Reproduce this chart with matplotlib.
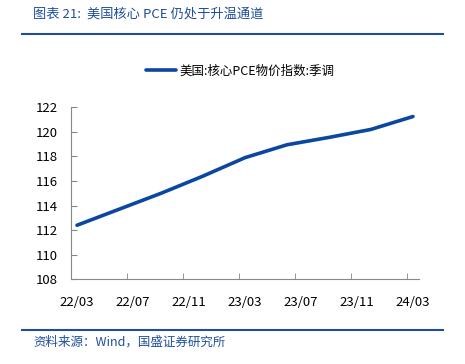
import numpy as np
import matplotlib
matplotlib.use("Agg")
import matplotlib.pyplot as plt
from matplotlib.lines import Line2D

plt.rcParams['font.family'] = ['Noto Sans CJK SC', 'DejaVu Sans']

# data: quarterly core PCE index, months counted from 2022/03
months = [0, 3, 6, 9, 12, 15, 18, 21, 24]
values = [112.4, 113.7, 115.0, 116.4, 117.9, 118.95, 119.55, 120.2, 121.25]
tick_months = [0, 4, 8, 12, 16, 20, 24]
tick_labels = ['22/03', '22/07', '22/11', '23/03', '23/07', '23/11', '24/03']
y_ticks = [108, 110, 112, 114, 116, 118, 120, 122]
series_name = '美国:核心PCE物价指数:季调'

title = '图表 21:  美国核心 PCE 仍处于升温通道'
source = '资料来源：Wind，国盛证券研究所'

BLUE = '#0b47a1'
HEAD = '#1f4e9c'
GREY = '#888888'

fig = plt.figure(figsize=(4.65, 3.64), dpi=100)
W, H = 465, 364

# header / footer
fig.text(33 / W, 1 - 14 / H, title, fontsize=9.5, color=HEAD, va='center', ha='left')
fig.add_artist(Line2D([22 / W, 443 / W], [1 - 34 / H, 1 - 34 / H], color=HEAD, lw=1.5))
fig.add_artist(Line2D([22 / W, 443 / W], [1 - 330 / H, 1 - 330 / H], color=HEAD, lw=1.5))
fig.text(33 / W, 1 - 342 / H, source, fontsize=9, color=HEAD, va='center', ha='left')

ax = fig.add_axes([71 / W, 1 - 279.3 / H, (419 - 71) / W, (279.3 - 107.3) / H])
ax.plot(months, values, color=BLUE, lw=2.6, solid_capstyle='round', label=series_name)

ax.set_xlim(-0.43, 24.43)
ax.set_ylim(108, 122)
ax.set_yticks(y_ticks)
ax.set_xticks(tick_months)
ax.set_xticklabels(tick_labels)
ax.set_xticks([m - 0.43 for m in tick_months[1:]], minor=True)
ax.tick_params(axis='x', which='major', length=0, pad=12, labelsize=9.5, colors='black')
ax.tick_params(axis='x', which='minor', length=4, direction='in', color=GREY)
ax.tick_params(axis='y', length=4, direction='in', color=GREY, pad=9.5, labelsize=9.5)
for s in ['top', 'right']:
    ax.spines[s].set_visible(False)
for s in ['left', 'bottom']:
    ax.spines[s].set_color(GREY)
    ax.spines[s].set_linewidth(0.8)

fig.legend(loc='center', bbox_to_anchor=(240 / W, 1 - 71 / H), frameon=False,
           fontsize=9, handlelength=2.4, handletextpad=0.3)

fig.savefig('out.png', dpi=100)
